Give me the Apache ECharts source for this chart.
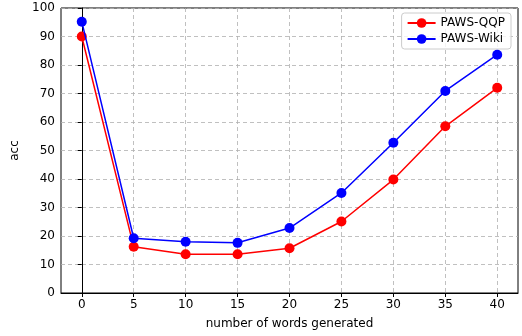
<!DOCTYPE html>
<html>
<head>
<meta charset="utf-8">
<script src="https://cdn.jsdelivr.net/npm/echarts@6/dist/echarts.min.js"></script>
<style>html,body{margin:0;padding:0;background:#fff}#c{width:522px;height:336px}</style>
</head>
<body>
<div id="c"></div>
<script>
var xValues = [0, 5, 10, 15, 20, 25, 30, 35, 40];
var qqp = [90.0, 16.2, 13.6, 13.6, 15.7, 25.1, 39.8, 58.5, 72.0];
var wiki = [95.2, 19.2, 18.0, 17.6, 22.8, 35.1, 52.7, 70.9, 83.6];
var seriesNames = ['PAWS-QQP', 'PAWS-Wiki'];
var seriesColors = ['#ff0000', '#0000ff'];

function pairs(xs, ys) { return xs.map(function (x, i) { return [x, ys[i]]; }); }

var font = 'DejaVu Sans';
var chart = echarts.init(document.getElementById('c'), null, {renderer: 'canvas'});
chart.setOption({
  animation: false,
  backgroundColor: '#fff',
  textStyle: {fontFamily: font},
  grid: {left: 61, right: 4, top: 8, bottom: 43, show: true, borderColor: '#000', borderWidth: 1, backgroundColor: 'transparent'},
  legend: {
    right: 11, top: 13, orient: 'vertical',
    backgroundColor: 'rgba(255,255,255,0.8)', borderColor: '#cccccc', borderWidth: 1, borderRadius: 3,
    padding: [4, 6, 4, 5], itemGap: 4, itemWidth: 28, itemHeight: 12,
    textStyle: {fontFamily: font, fontSize: 12, color: '#000'},
    data: seriesNames
  },
  xAxis: {
    type: 'value', min: -2, max: 42,
    name: 'number of words generated', nameLocation: 'middle', nameGap: 25,
    nameTextStyle: {fontFamily: font, fontSize: 12, color: '#000'},
    axisLine: {show: true, lineStyle: {color: '#000', width: 1}},
    axisTick: {show: true, length: 4, lineStyle: {color: '#000'}, customValues: xValues},
    axisLabel: {fontFamily: font, fontSize: 12, color: '#000', margin: 6, customValues: xValues},
    splitLine: {show: true, lineStyle: {color: '#b0b0b0', type: [4, 3], width: 0.8}}
  },
  yAxis: {
    type: 'value', min: 0, max: 100, interval: 10,
    name: 'acc', nameLocation: 'middle', nameGap: 34, nameRotate: 90,
    nameTextStyle: {fontFamily: font, fontSize: 12, color: '#000'},
    axisLine: {show: true, lineStyle: {color: '#000', width: 1}},
    axisTick: {show: true, length: 4, lineStyle: {color: '#000'}},
    axisLabel: {fontFamily: font, fontSize: 12, color: '#000', margin: 6},
    splitLine: {show: true, lineStyle: {color: '#b0b0b0', type: [4, 3], width: 0.8}}
  },
  series: [
    {name: seriesNames[0], type: 'line', data: pairs(xValues, qqp), color: seriesColors[0],
     symbol: 'circle', symbolSize: 10, lineStyle: {width: 1.5}, z: 3},
    {name: seriesNames[1], type: 'line', data: pairs(xValues, wiki), color: seriesColors[1],
     symbol: 'circle', symbolSize: 10, lineStyle: {width: 1.5}, z: 4}
  ]
});
</script>
</body>
</html>
